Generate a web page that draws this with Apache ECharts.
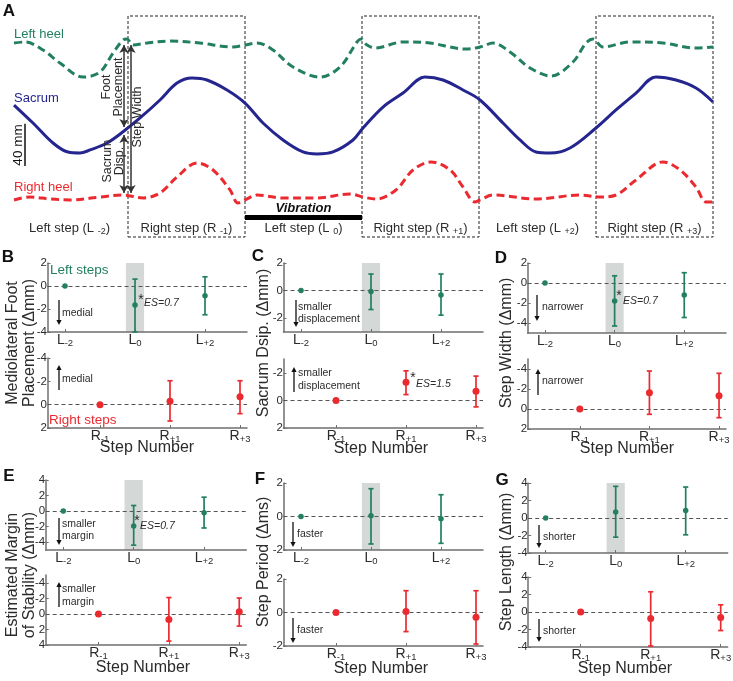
<!DOCTYPE html>
<html>
<head>
<meta charset="utf-8">
<script src="https://cdn.jsdelivr.net/npm/echarts@6.0.0/dist/echarts.min.js"></script>
<style>html,body{margin:0;padding:0;background:#fff;}#chart{width:733px;height:681px;}</style>
</head>
<body>
<div id="chart"></div>
<script>
// ================= DATA =================
// Panel A: mediolateral traces (x = frame index, y = position in mm)
const leftHeelX = [0,11,29,46,69,86,99,109,113,119,133,156,186,219,231,243,259,279,306,326,343,347,353,361,389,416,452,466,479,496,516,537,559,572,579,589,616,649,682,699];
const leftHeelY = [184.3,185.3,177.7,165.3,152.0,156.8,174.8,187.2,188.1,182.4,184.3,186.2,184.3,180.5,182.4,184.3,177.7,161.5,152.0,161.5,185.3,188.1,182.4,179.6,185.3,184.3,178.6,180.5,184.3,175.8,160.6,153.0,166.3,184.3,188.1,180.5,185.3,184.3,179.6,180.5];
const sacrumX = [0,19,39,54,66,76,93,110,126,146,163,178,193,213,231,249,269,289,303,319,339,349,369,389,411,429,449,466,489,506,522,536,556,582,602,622,642,662,682,699];
const sacrumY = [125.4,108.3,89.3,80.7,79.8,82.7,89.3,100.7,113.1,130.2,146.3,151.1,149.2,139.7,127.3,108.3,92.2,80.8,78.9,80.8,92.2,103.6,123.5,136.8,152.0,149.2,139.7,130.2,108.3,92.2,80.8,79.8,84.6,103.6,120.7,136.8,152.0,149.2,141.6,128.3];
const rightHeelX = [0,16,36,56,86,109,129,146,163,183,199,216,224,231,243,269,303,336,349,362,382,399,417,436,449,461,466,479,522,566,586,602,622,649,666,682,692,699];
const rightHeelY = [35.2,38.0,36.1,35.2,38.0,39.9,37.1,41.8,57.0,70.3,63.7,44.7,32.3,35.2,39.9,37.1,37.1,40.9,38.0,36.1,44.7,63.7,71.3,63.7,47.5,33.3,35.2,39.9,36.1,39.9,38.0,39.9,54.2,71.3,63.7,47.5,33.3,33.3];
const stepBounds = [-3,114,231,348,465,582,699];
const stepSides = ['Left','Right','Left','Right','Left','Right'];
const stepIds = ['-2','-1','0','+1','+2','+3'];
const vibrationStep = 2;

// Panels B-G: step numbers and tick labels
const leftSteps = [-2,0,2];
const rightSteps = [-1,1,3];
const stepSubs = {'-2':'-2','-1':'-1','0':'0','1':'+1','2':'+2','3':'+3'};
const yTicksB = [-4,-2,0,2], yRangeB = [-4,2];
const yTicksC = [-2,0,2],    yRangeC = [-3,2];
const yTicksD = [-4,-2,0,2], yRangeD = [-5,2];
const yTicksE = [-4,-2,0,2,4], yRangeE = [-5,4];
const yTicksF = [-2,0,2],    yRangeF = [-2,2];
const yTicksG = [-4,-2,0,2,4], yRangeG = [-4,4];

// B: mediolateral foot placement
const bLeftMean = [0,-1.65,-0.84], bLeftLow = [null,-4.0,-2.5], bLeftHigh = [null,0.6,0.8];
const bRightMean = [0,-0.3,-0.68], bRightLow = [null,-2.05,-2.05], bRightHigh = [null,1.4,0.77];
// C: sacrum displacement
const cLeftMean = [0,-0.07,-0.32], cLeftLow = [null,-1.37,-1.78], cLeftHigh = [null,1.2,1.2];
const cRightMean = [0,-1.32,-0.66], cRightLow = [null,-2.14,-1.76], cRightHigh = [null,-0.42,0.47];
// D: step width
const dLeftMean = [0,-1.79,-1.2], dLeftLow = [null,-4.3,-3.45], dLeftHigh = [null,0.72,1.03];
const dRightMean = [0,-1.63,-1.33], dRightLow = [null,-3.8,-3.57], dRightHigh = [null,0.53,0.87];
// E: margin of stability
const eLeftMean = [0,-1.91,-0.21], eLeftLow = [null,-4.38,-2.17], eLeftHigh = [null,0.72,1.79];
const eRightMean = [0,0.72,-0.26], eRightLow = [null,-2.1,-2.04], eRightHigh = [null,3.5,1.57];
// F: step period
const fLeftMean = [0,0.04,-0.14], fLeftLow = [null,-1.64,-1.6], fLeftHigh = [null,1.66,1.3];
const fRightMean = [0,0.06,-0.28], fRightLow = [null,-1.14,-1.88], fRightHigh = [null,1.3,1.3];
// G: step length
const gLeftMean = [0,0.69,0.85], gLeftLow = [null,-2.19,-1.92], gLeftHigh = [null,3.62,3.54];
const gRightMean = [0,-0.75,-0.63], gRightLow = [null,-3.88,-2.12], gRightHigh = [null,2.31,0.82];

// ================= STYLE / LAYOUT =================
const FONT = '"Liberation Sans", Arial, Helvetica, sans-serif';
const GREEN = '#23805f', RED = '#eb2a30', BLUE = '#25258f', AXIS = '#6f6f6f', TXT = '#2b2b2b';

const panelDefs = [
  {key:'B', range:yRangeB, ticks:yTicksB, botInverse:true,  left:[bLeftMean,bLeftLow,bLeftHigh], right:[bRightMean,bRightLow,bRightHigh]},
  {key:'C', range:yRangeC, ticks:yTicksC, botInverse:true,  left:[cLeftMean,cLeftLow,cLeftHigh], right:[cRightMean,cRightLow,cRightHigh]},
  {key:'D', range:yRangeD, ticks:yTicksD, botInverse:true,  left:[dLeftMean,dLeftLow,dLeftHigh], right:[dRightMean,dRightLow,dRightHigh]},
  {key:'E', range:yRangeE, ticks:yTicksE, botInverse:true,  left:[eLeftMean,eLeftLow,eLeftHigh], right:[eRightMean,eRightLow,eRightHigh]},
  {key:'F', range:yRangeF, ticks:yTicksF, botInverse:false, left:[fLeftMean,fLeftLow,fLeftHigh], right:[fRightMean,fRightLow,fRightHigh]},
  {key:'G', range:yRangeG, ticks:yTicksG, botInverse:false, left:[gLeftMean,gLeftLow,gLeftHigh], right:[gRightMean,gRightLow,gRightHigh]}
];
const panelBoxes = {
  B:{x:47.5,  w:199.5, top:[263,69], bot:[358,70]},
  C:{x:283.5, w:199.5, top:[263,69], bot:[359,69]},
  D:{x:527.6, w:198.4, top:[263,70], bot:[359,70]},
  E:{x:45.7,  w:200.6, top:[480,70], bot:[575,70]},
  F:{x:283.5, w:199.5, top:[483,67], bot:[579,67]},
  G:{x:528.2, w:199.5, top:[483,70], bot:[577,70]}
};

const grids = [], xAxes = [], yAxes = [], series = [];
const zip = (xs, ys) => xs.map((x, i) => [x, ys[i]]);

// ---------- Panel A ----------
const stepMid = stepBounds.slice(0, -1).map((b, i) => (b + stepBounds[i + 1]) / 2);
grids.push({left:14, top:16, width:699, height:221, containLabel:false, outerBoundsMode:'none'});
xAxes.push({gridIndex:0, type:'value', min:0, max:699,
  axisLine:{show:false}, axisTick:{show:false}, splitLine:{show:false},
  axisLabel:{inside:true, margin:1, customValues:stepMid, color:TXT,
    formatter: v => {
      let i = 0, best = 1e9;
      stepMid.forEach((m, k) => { if (Math.abs(m - v) < best) { best = Math.abs(m - v); i = k; } });
      return '{n|' + stepSides[i] + ' step (' + stepSides[i][0] + ' }{s|' + stepIds[i] + '}{n|)}';
    },
    rich:{
      n:{fontSize:13, fontFamily:FONT, color:TXT, lineHeight:14, verticalAlign:'top'},
      s:{fontSize:9, fontFamily:FONT, color:TXT, lineHeight:9, padding:[6,0,0,0]}
    }}
});
yAxes.push({gridIndex:0, type:'value', min:0, max:210, show:false});

const boxAreas = [];
for (let i = 1; i < stepBounds.length - 1; i += 2) boxAreas.push([{xAxis:stepBounds[i]}, {xAxis:stepBounds[i + 1]}]);

series.push({type:'line', name:'Left heel', xAxisIndex:0, yAxisIndex:0, data:zip(leftHeelX, leftHeelY),
  smooth:0.35, symbol:'none', silent:true,
  lineStyle:{color:GREEN, width:3, type:[8,4.5]},
  markLine:{silent:true, symbol:['arrow','arrow'], symbolSize:[7,8], label:{show:false},
    lineStyle:{color:'#333', width:1.5, type:'solid'},
    data:[
      [{coord:[110,182.4]},{coord:[110,104.5]}],
      [{coord:[110,97]},{coord:[110,41.8]}],
      [{coord:[117,182.4]},{coord:[117,41.8]}]
    ]}
});
series.push({type:'line', name:'Sacrum', xAxisIndex:0, yAxisIndex:0, data:zip(sacrumX, sacrumY),
  smooth:0.35, symbol:'none', silent:true, lineStyle:{color:BLUE, width:3},
  markArea:{silent:true, itemStyle:{color:'rgba(0,0,0,0)', borderColor:'#222', borderWidth:1, borderType:[3,2]},
    data:boxAreas}
});
series.push({type:'line', name:'Right heel', xAxisIndex:0, yAxisIndex:0, data:zip(rightHeelX, rightHeelY),
  smooth:0.35, symbol:'none', silent:true,
  lineStyle:{color:RED, width:3, type:[8,4.5]},
  markLine:{silent:true, symbol:'none', label:{show:false},
    data:[
      [{coord:[11,67.5], lineStyle:{color:'#111', width:1.5, type:'solid'}},{coord:[11,107.5]}],
      [{coord:[stepBounds[vibrationStep],19], lineStyle:{color:'#000', width:5, type:'solid'},
        label:{show:true, position:'insideMiddleTop', formatter:'Vibration', distance:2,
          fontFamily:FONT, fontSize:13, fontWeight:'bold', fontStyle:'italic', color:'#111'}},
       {coord:[stepBounds[vibrationStep + 1],19]}]
    ]}
});

// ---------- Panels B-G ----------
function errRender(color) {
  return function (params, api) {
    const x = api.value(0), lo = api.value(1), hi = api.value(2);
    const a = api.coord([x, lo]), b = api.coord([x, hi]);
    const w = 2.6, st = {stroke:color, lineWidth:1.7};
    return {type:'group', children:[
      {type:'line', shape:{x1:a[0], y1:a[1], x2:b[0], y2:b[1]}, style:st},
      {type:'line', shape:{x1:a[0]-w, y1:a[1], x2:a[0]+w, y2:a[1]}, style:st},
      {type:'line', shape:{x1:b[0]-w, y1:b[1], x2:b[0]+w, y2:b[1]}, style:st}
    ]};
  };
}

panelDefs.forEach(p => {
  const box = panelBoxes[p.key];
  [['top', leftSteps, p.left, GREEN, false, 'L'], ['bot', rightSteps, p.right, RED, p.botInverse, 'R']]
  .forEach(([part, steps, vals, color, inv, letter]) => {
    const gi = grids.length;
    grids.push({left:box.x, top:box[part][0], width:box.w, height:box[part][1], containLabel:false, outerBoundsMode:'none'});
    xAxes.push({gridIndex:gi, type:'value', min:-2.5, max:3.2,
      axisLine:{show:true, onZero:false, lineStyle:{color:AXIS, width:1.5}},
      axisTick:{show:true, inside:true, length:3, customValues:steps, lineStyle:{color:AXIS}},
      splitLine:{show:false},
      axisLabel:{customValues:steps, margin:1,
        formatter: v => '{m|' + letter + '}{s|' + stepSubs[String(Math.round(v))] + '}',
        rich:{
          m:{fontSize:14, fontFamily:FONT, color:TXT, lineHeight:14, verticalAlign:'top'},
          s:{fontSize:9.5, fontFamily:FONT, color:TXT, lineHeight:9.5, padding:[7,0,0,0]}
        }}
    });
    yAxes.push({gridIndex:gi, type:'value', min:p.range[0], max:p.range[1], inverse:inv,
      axisLine:{show:true, onZero:false, lineStyle:{color:AXIS, width:1.5}},
      axisTick:{show:true, inside:true, length:3, customValues:p.ticks, lineStyle:{color:AXIS}},
      splitLine:{show:false},
      axisLabel:{customValues:p.ticks, margin:0.5, fontSize:11.5, fontFamily:FONT, color:TXT,
        formatter: v => String(Math.round(v))}
    });
    const [mean, lo, hi] = vals;
    const bars = steps.map((s, i) => [s, lo[i], hi[i]]).filter(d => d[1] != null);
    series.push({type:'custom', xAxisIndex:gi, yAxisIndex:gi, z:2, silent:true, clip:false,
      data:bars, encode:{x:0, y:[1,2]}, renderItem:errRender(color)});
    const sc = {type:'scatter', xAxisIndex:gi, yAxisIndex:gi, z:3, silent:true, symbol:'circle',
      symbolSize: part === 'top' ? 5.5 : 7, itemStyle:{color:color, opacity:1},
      data:steps.map((s, i) => [s, mean[i]]),
      markLine:{silent:true, symbol:'none', label:{show:false}, z:1,
        lineStyle:{color:'#555', width:1, type:[4,3]}, data:[{yAxis:0}]}
    };
    if (part === 'top') {
      sc.markArea = {silent:true, z:0, itemStyle:{color:'#d4d8d7', opacity:1},
        data:[[{xAxis:-0.26},{xAxis:0.26}]]};
    }
    series.push(sc);
  });
});

// ---------- Annotations (graphic) ----------
const G = [];
function txt(x, y, text, o) {
  o = o || {};
  const size = o.size || 10.5;
  G.push({type:'text', x:x, y:y, rotation:o.rot || 0, z:100, silent:true,
    style:{text:text, fill:o.color || TXT,
      font:(o.style || 'normal') + ' ' + (o.weight || 'normal') + ' ' + size + 'px ' + FONT,
      lineHeight:o.lh || size + 1,
      align:o.align || 'left', verticalAlign:'middle',
      textAlign:o.align || 'left', textVerticalAlign:'middle'}});
}
function arrow(x, y1, y2) {
  const dir = y2 > y1 ? 1 : -1, h = 5, w = 2.6;
  G.push({type:'line', z:100, silent:true, shape:{x1:x, y1:y1, x2:x, y2:y2 - dir * h}, style:{stroke:'#111', lineWidth:1.3}});
  G.push({type:'polygon', z:100, silent:true, shape:{points:[[x - w, y2 - dir * h], [x + w, y2 - dir * h], [x, y2]]}, style:{fill:'#111'}});
}
const R90 = Math.PI / 2;
// panel letters
[['A',9,11],['B',8,257],['C',258,256],['D',501,258],['E',9,476],['F',260,479],['G',502,480]]
  .forEach(([t, x, y]) => txt(x, y, t, {size:17, weight:'bold', align:'center', color:'#111'}));
// panel A texts
txt(14, 34, 'Left heel', {size:13, color:GREEN});
txt(14, 98, 'Sacrum', {size:13, color:BLUE});
txt(14, 187, 'Right heel', {size:13, color:RED});
txt(18, 145, '40 mm', {size:13.5, rot:R90, align:'center', color:'#111'});
txt(113, 87, 'Foot\nPlacement', {size:12.5, rot:R90, align:'center', lh:12});
txt(113.5, 161, 'Sacrum\nDisp.', {size:12.5, rot:R90, align:'center', lh:12});
txt(138, 117, 'Step Width', {size:12.5, rot:R90, align:'center'});
// B
txt(50, 270, 'Left steps', {size:13.5, color:GREEN});
txt(49, 420, 'Right steps', {size:13.5, color:RED});
txt(62, 313, 'medial'); arrow(59, 300, 325);
txt(62, 379, 'medial'); arrow(59, 390, 365);
txt(141, 300, '*', {size:14, align:'center'}); txt(144, 303, 'ES=0.7', {style:'italic'});
// C
txt(298, 313, 'smaller\ndisplacement', {lh:12}); arrow(296, 300, 327);
txt(298, 379.5, 'smaller\ndisplacement', {lh:13}); arrow(294, 392, 367);
txt(413, 378, '*', {size:14, align:'center'}); txt(416, 384, 'ES=1.5', {style:'italic'});
// D
txt(542, 307, 'narrower'); arrow(537, 295, 321);
txt(542, 381.5, 'narrower'); arrow(538, 395, 369);
txt(619, 296, '*', {size:14, align:'center'}); txt(623, 301, 'ES=0.7', {style:'italic'});
// E
txt(62, 530, 'smaller\nmargin', {lh:12}); arrow(59, 518, 545);
txt(62, 595.5, 'smaller\nmargin', {lh:13}); arrow(59, 607, 582);
txt(137, 521, '*', {size:14, align:'center'}); txt(140, 526, 'ES=0.7', {style:'italic'});
// F
txt(297, 534, 'faster'); arrow(293, 522, 547);
txt(297, 630, 'faster'); arrow(293, 618, 643);
// G
txt(543, 537, 'shorter'); arrow(539, 525, 548);
txt(543, 631, 'shorter'); arrow(539, 619, 642);
// axis titles
[[147,448],[381,449],[627,449],[143,668],[381,669],[625,669]]
  .forEach(([x, y]) => txt(x, y, 'Step Number', {size:16, align:'center'}));
txt(21, 343, 'Mediolateral Foot\nPlacement (\u0394mm)', {size:16, rot:R90, align:'center', lh:16.5});
txt(264, 343, 'Sacrum Dsip. (\u0394mm)', {size:16, rot:R90, align:'center'});
txt(507, 343, 'Step Width (\u0394mm)', {size:16, rot:R90, align:'center'});
txt(21, 575, 'Estimated Margin\nof Stability (\u0394mm)', {size:16, rot:R90, align:'center', lh:17.5});
txt(264, 562, 'Step Period (\u0394ms)', {size:16, rot:R90, align:'center'});
txt(507, 562, 'Step Length (\u0394mm)', {size:16, rot:R90, align:'center'});

const chart = echarts.init(document.getElementById('chart'), null, {renderer:'canvas'});
chart.setOption({
  animation:false,
  backgroundColor:'#ffffff',
  textStyle:{fontFamily:FONT},
  tooltip:{show:false},
  grid:grids, xAxis:xAxes, yAxis:yAxes, series:series,
  graphic:{elements:G}
});
</script>
</body>
</html>
